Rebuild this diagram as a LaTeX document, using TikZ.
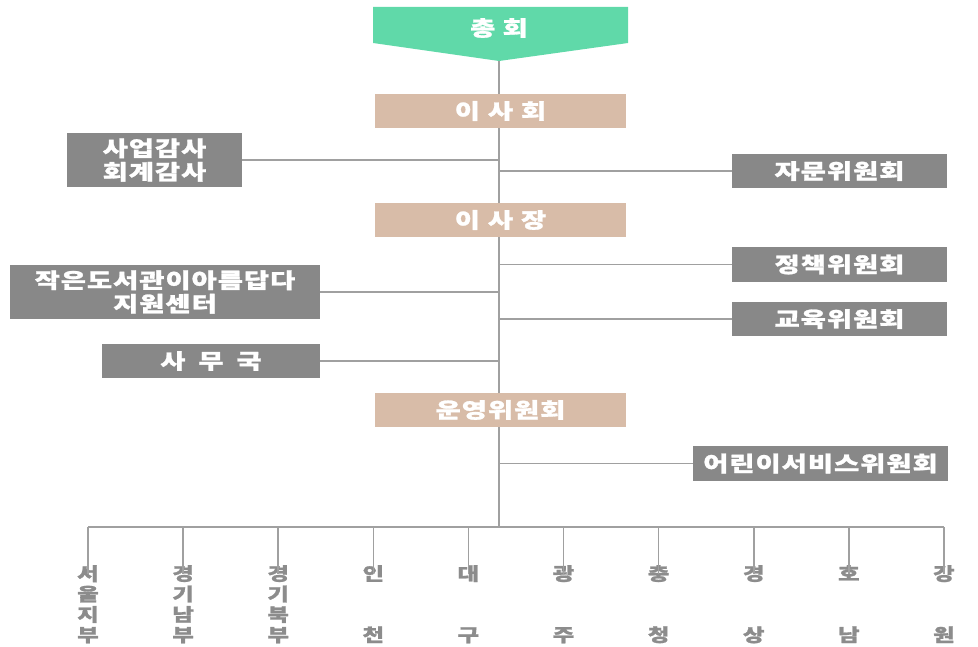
\documentclass[tikz,border=0pt]{standalone}
\usepackage{fontspec}
\newfontfamily\kr{Noto Sans CJK KR}[FakeStretch=1.3,LetterSpace=5,BoldFeatures={FakeBold=1.3}]
\newfontfamily\krr{Noto Sans CJK KR}[FakeStretch=1.3,BoldFeatures={FakeBold=1.2}]
\definecolor{mint}{RGB}{96,217,169}
\definecolor{tan}{RGB}{216,188,168}
\definecolor{boxgray}{RGB}{136,136,136}
\definecolor{linegray}{RGB}{160,160,160}
\definecolor{txtgray}{RGB}{140,140,140}
\begin{document}
\begin{tikzpicture}[x=1pt,y=-1pt,
  conn/.style={draw=linegray,line width=1.6pt},
  tanbox/.style={fill=tan,text=white,minimum width=251pt,minimum height=34pt,inner sep=0pt,font=\kr\bfseries\fontsize{21}{23}\selectfont},
  graybox/.style={fill=boxgray,text=white,minimum height=34pt,inner sep=0pt,align=center,font=\kr\bfseries\fontsize{21}{23.5}\selectfont},
  region/.style={anchor=north,text=txtgray,inner sep=0pt,align=center,font=\krr\bfseries\fontsize{18}{20.4}\selectfont}]
\useasboundingbox (0,0) rectangle (978,647);
% top pentagon
\fill[mint] (373,7) -- (628,7) -- (628,43) -- (499,61) -- (373,43) -- cycle;
\node[text=white,inner sep=0pt,font=\kr\bfseries\fontsize{21}{23}\selectfont] (chong) at (499,28) {총 회};
\coordinate (spinetop) at (499,61);
\coordinate (spinebot) at (499,527);
\draw[conn] (spinetop) -- (spinebot);
% main boxes
\node[tanbox] (isahoe) at (500.5,111) {이\hspace{8pt}사\hspace{8pt}회};
\node[tanbox] (isajang) at (500.5,220) {이\hspace{8pt}사\hspace{8pt}장};
\node[tanbox] (unyeong) at (500.5,410) {운영위원회};
% side boxes
\node[graybox,minimum width=175pt,minimum height=54pt] (gamsa) at (154.5,160) {사업감사\\회계감사};
\node[graybox,minimum width=215pt] (jamun) at (839.5,171) {자문위원회};
\node[graybox,minimum width=310pt,minimum height=54pt] (jageun) at (165,292) {작은도서관이아름답다\\지원센터};
\node[graybox,minimum width=215pt,minimum height=35pt] (jeongchaek) at (839.5,264.5) {정책위원회};
\node[graybox,minimum width=215pt] (gyoyuk) at (839.5,319) {교육위원회};
\node[graybox,minimum width=218pt] (samu) at (211,361) {사\hspace{13pt}무\hspace{13pt}국};
\node[graybox,minimum width=255pt,minimum height=35pt] (eorini) at (820.5,463.5) {어린이서비스위원회};
% connectors
\draw[conn] (gamsa.east) -- (gamsa.east -| spinetop);
\draw[conn] (jageun.east) -- (jageun.east -| spinetop);
\draw[conn] (samu.east) -- (samu.east -| spinetop);
\draw[conn] (jamun.west) -- (jamun.west -| spinetop);
\draw[conn] (jeongchaek.west) -- (jeongchaek.west -| spinetop);
\draw[conn] (gyoyuk.west) -- (gyoyuk.west -| spinetop);
\draw[conn] (eorini.west) -- (eorini.west -| spinetop);
% regions
\foreach \i/\t in {0/{서\\울\\지\\부},1/{경\\기\\남\\부},2/{경\\기\\북\\부},3/{인\\[40.8pt]천},4/{대\\[40.8pt]구},5/{광\\[40.8pt]주},6/{충\\[40.8pt]청},7/{경\\[40.8pt]상},8/{호\\[40.8pt]남},9/{강\\[40.8pt]원}}{
  \coordinate (b\i) at ({88+95.1*\i},527);
  \node[region] (r\i) at ({88+95.1*\i},565) {\t};
  \draw[conn] (b\i) -- ([yshift=-9pt]r\i.north);
}
\draw[conn] (b0) -- (b9);
\end{tikzpicture}
\end{document}
